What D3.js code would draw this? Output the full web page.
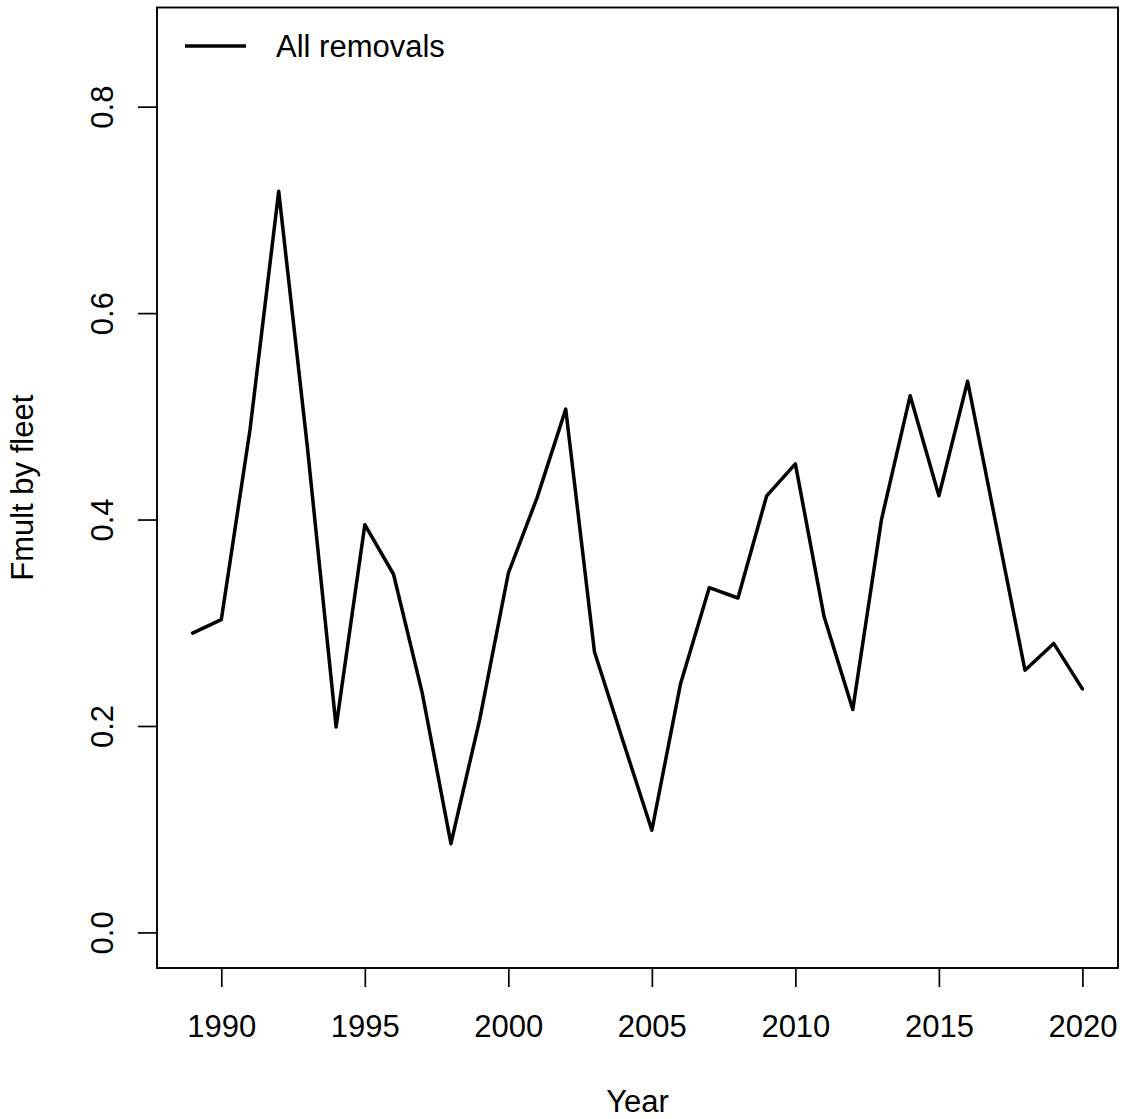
<!DOCTYPE html>
<html lang="en">

<head>
    <meta charset="UTF-8">
    <title>Fmult by fleet</title>
    <script src="https://d3js.org/d3.v7.min.js"></script>
    <style>
        html, body { margin: 0; padding: 0; background: #fff; overflow: hidden; }
        svg { display: block; }
        text { font-family: "Liberation Sans", Arial, sans-serif; fill: #000; }
    </style>
</head>

<body>

    <svg width="1123" height="1119" viewBox="0 0 1123 1119" id="mainsvg"></svg>

    <script>
        // data
        const years = d3.range(1989, 2021);
        const fmult = [0.290, 0.303, 0.487, 0.718, 0.470, 0.199, 0.395, 0.347, 0.232, 0.086,
            0.206, 0.348, 0.421, 0.507, 0.272, 0.185, 0.099, 0.241, 0.334, 0.324,
            0.423, 0.454, 0.306, 0.216, 0.400, 0.520, 0.423, 0.534, 0.394, 0.254,
            0.280, 0.236];
        const xTicks = [1990, 1995, 2000, 2005, 2010, 2015, 2020];
        const yTicks = [0.0, 0.2, 0.4, 0.6, 0.8];
        const legendLabel = 'All removals';

        const svg = d3.select('#mainsvg');
        const margin = { top: 7.5, right: 5, bottom: 151, left: 157 };
        const width = 1123;
        const height = 1119;
        const innerWidth = width - margin.left - margin.right;
        const innerHeight = height - margin.top - margin.bottom;
        const fontSize = 31;

        // R-style 4% axis expansion
        const pad = (lo, hi) => [lo - 0.04 * (hi - lo), hi + 0.04 * (hi - lo)];
        const xScale = d3.scaleLinear()
            .domain(pad(d3.min(years), d3.max(years)))
            .range([0, innerWidth]);
        const yScale = d3.scaleLinear()
            .domain(pad(0, 1.2 * d3.max(fmult)))
            .range([innerHeight, 0]);

        const g = svg.append('g')
            .attr('transform', `translate(${margin.left},${margin.top})`);

        // x axis
        const xAxisGroup = g.append('g')
            .attr('transform', `translate(0,${innerHeight})`)
            .call(d3.axisBottom(xScale).tickValues(xTicks).tickFormat(d3.format('d'))
                .tickSize(19).tickPadding(28).tickSizeOuter(0))
            .attr('font-size', null)
            .attr('font-family', null);
        xAxisGroup.select('.domain').remove();
        xAxisGroup.selectAll('.tick line').attr('stroke', '#000').attr('stroke-width', 1.7);
        xAxisGroup.selectAll('.tick text').attr('font-size', fontSize);

        // y axis, labels rotated like R's default
        const yAxisGroup = g.append('g')
            .call(d3.axisLeft(yScale).tickValues(yTicks).tickFormat(d3.format('.1f'))
                .tickSize(19).tickSizeOuter(0))
            .attr('font-size', null)
            .attr('font-family', null);
        yAxisGroup.select('.domain').remove();
        yAxisGroup.selectAll('.tick line').attr('stroke', '#000').attr('stroke-width', 1.7);
        yAxisGroup.selectAll('.tick text')
            .attr('font-size', fontSize)
            .attr('transform', 'rotate(-90)')
            .attr('x', 0)
            .attr('y', -44.3)
            .attr('dy', 0)
            .attr('text-anchor', 'middle');

        // series line
        const line = d3.line()
            .x((d, i) => xScale(years[i]))
            .y(d => yScale(d));
        g.append('path')
            .datum(fmult)
            .attr('d', line)
            .attr('fill', 'none')
            .attr('stroke', '#000')
            .attr('stroke-width', 3.5)
            .attr('stroke-linejoin', 'round')
            .attr('stroke-linecap', 'round');

        // box
        g.append('rect')
            .attr('width', innerWidth)
            .attr('height', innerHeight)
            .attr('fill', 'none')
            .attr('stroke', '#000')
            .attr('stroke-width', 1.9);

        // legend
        g.append('line')
            .attr('x1', 185 - margin.left).attr('x2', 246 - margin.left)
            .attr('y1', 46 - margin.top).attr('y2', 46 - margin.top)
            .attr('stroke', '#000').attr('stroke-width', 3.5);
        g.append('text')
            .attr('x', 276 - margin.left)
            .attr('y', 56.5 - margin.top)
            .attr('font-size', fontSize)
            .text(legendLabel);

        // axis titles
        svg.append('text')
            .attr('x', margin.left + innerWidth / 2)
            .attr('y', 1112)
            .attr('text-anchor', 'middle')
            .attr('font-size', fontSize)
            .text('Year');
        svg.append('text')
            .attr('transform', `translate(33,${margin.top + innerHeight / 2}) rotate(-90)`)
            .attr('text-anchor', 'middle')
            .attr('font-size', fontSize)
            .text('Fmult by fleet');
    </script>
</body>

</html>
